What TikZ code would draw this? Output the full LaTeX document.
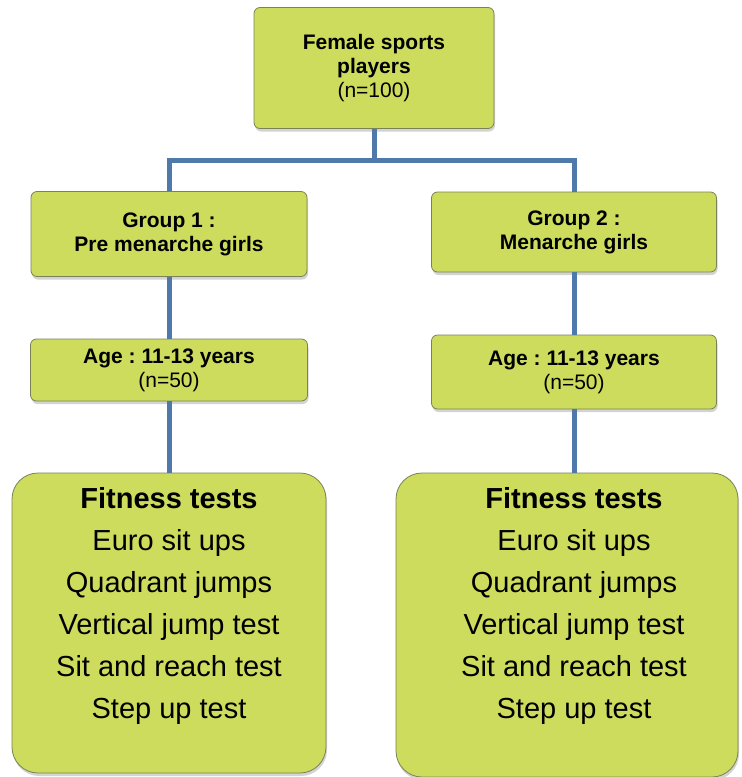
\documentclass[tikz,border=0pt]{standalone}
\usepackage{fontspec}
\setmainfont{Liberation Sans}
\frenchspacing
\usetikzlibrary{shapes, shadows}
\definecolor{boxgreen}{RGB}{205,220,92}
\definecolor{boxline}{RGB}{122,130,88}
\definecolor{linkblue}{RGB}{79,121,171}
\tikzset{
	every edge/.style={line width=5pt,draw=linkblue},
	box/.style={shape=rectangle,rounded corners=6pt,fill=boxgreen,draw=boxline,line width=0.8pt,align=center,font=\bfseries\fontsize{21}{24}\selectfont,drop shadow={shadow xshift=1pt,shadow yshift=-3pt,opacity=0.35}},
	big-box/.style={box,rounded corners=26pt},
	tests-text/.style={align=center,font=\fontsize{29}{42}\selectfont,inner sep=0pt},
	link/.style={line width=5pt,draw=linkblue},
}

\begin{document}
\begin{tikzpicture}[x=1pt,y=-1pt]
	\useasboundingbox (0,0) rectangle (742,777);

	\node[box, minimum width=240, minimum height=121] (players) at (374,68) {Female sports\\players\\{\mdseries (n=100)}};
	\node[box, minimum width=276, minimum height=85] (group1) at (169,234) {Group 1 :\\Pre menarche girls};
	\node[box, minimum width=285, minimum height=80] (group2) at (574,232) {Group 2 :\\Menarche girls};
	\node[box, minimum width=277, minimum height=62] (age1) at (169,370) {Age : 11-13 years\\{\mdseries (n=50)}};
	\node[box, minimum width=285, minimum height=74] (age2) at (574,372) {Age : 11-13 years\\{\mdseries (n=50)}};

	\node[big-box, minimum width=314, minimum height=300] (tests1) at (169,623) {};
	\node[big-box, minimum width=342, minimum height=304] (tests2) at (567,625) {};
	\node[tests-text, anchor=north] (list1) at (169,487) {\textbf{Fitness tests}\\Euro sit ups\\Quadrant jumps\\Vertical jump test\\Sit and reach test\\Step up test};
	\node[tests-text, anchor=north] (list2) at (574,487) {\textbf{Fitness tests}\\Euro sit ups\\Quadrant jumps\\Vertical jump test\\Sit and reach test\\Step up test};

	\coordinate (split) at (374,160);
	\path [-] (players) edge (split);
	\draw[link] (group1.north) |- (split) -| (group2.north);
	\path [-] (group1) edge (age1);
	\path [-] (group2) edge (age2);
	\path [-] (age1.south) edge (age1.south |- tests1.north);
	\path [-] (age2.south) edge (age2.south |- tests2.north);
\end{tikzpicture}
\end{document}
